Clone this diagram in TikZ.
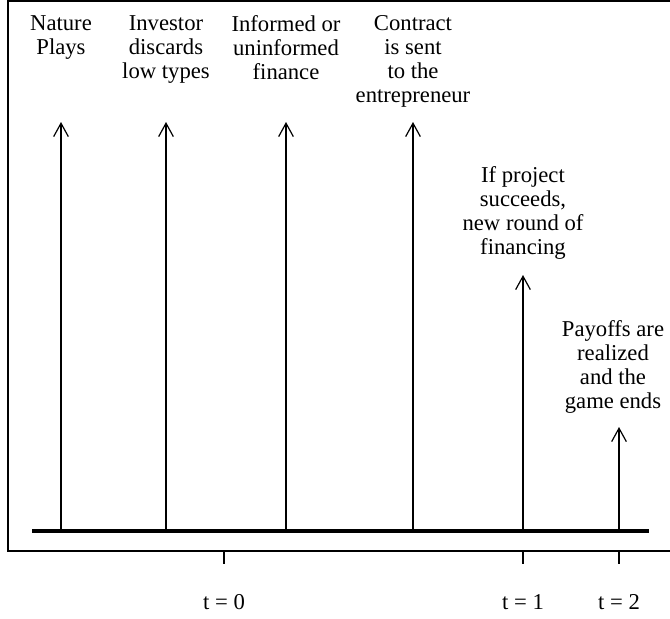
\documentclass[tikz,border=0pt]{standalone}
\usepackage{fontspec}
\setmainfont{Liberation Serif}
\usetikzlibrary{arrows.meta}

\tikzset{
  label/.style={align=center, inner sep=0pt, anchor=north, font=\fontsize{17}{18}\selectfont},
  event/.style={line width=0.9pt, -{Straight Barb[length=10pt,width=11pt,line width=0.9pt]}},
}

\begin{document}
\begin{tikzpicture}[x=0.75pt,y=-0.75pt]
\useasboundingbox (0,0) rectangle (670,618);
% frame
\draw[line width=0.9pt] (672,1) -- (8,1) -- (8,551) -- (672,551);
% time line
\coordinate (lstart) at (32,531);
\coordinate (lend) at (649,531);
\draw[line width=2.3pt] (lstart) -- (lend);
% events
\node (nature) [label] at (61,15) {Nature\\Plays};
\node (investor) [label] at (166,15) {Investor\\discards\\low types};
\node (informed) [label] at (286,15) {Informed or\\uninformed\\finance};
\node (contract) [label] at (413,15) {Contract\\is sent\\to the\\entrepreneur};
\node (project) [label] at (523,166) {If project\\succeeds,\\new round of\\financing};
\node (payoffs) [label] at (613,320) {Payoffs are\\realized\\and the\\game ends};
\foreach \n/\x/\y in {nature/61/122, investor/166/122, informed/286/122,
                      contract/413/122, project/523/275, payoffs/619/427}
{
  \coordinate (base\n) at (\x,531);
  \coordinate (tip\n) at (\x,\y);
  \draw[event] (base\n) -- (tip\n);
}
% periods
\foreach \n/\x in {0/224, 1/523, 2/619}
{
  \coordinate (ticktop\n) at (\x,551);
  \coordinate (tickbot\n) at (\x,564);
  \draw[line width=0.9pt] (ticktop\n) -- (tickbot\n);
  \node (period\n) [font=\fontsize{17}{18}\selectfont, inner sep=0pt] at (\x,602) {t = \n};
}
\end{tikzpicture}
\end{document}
